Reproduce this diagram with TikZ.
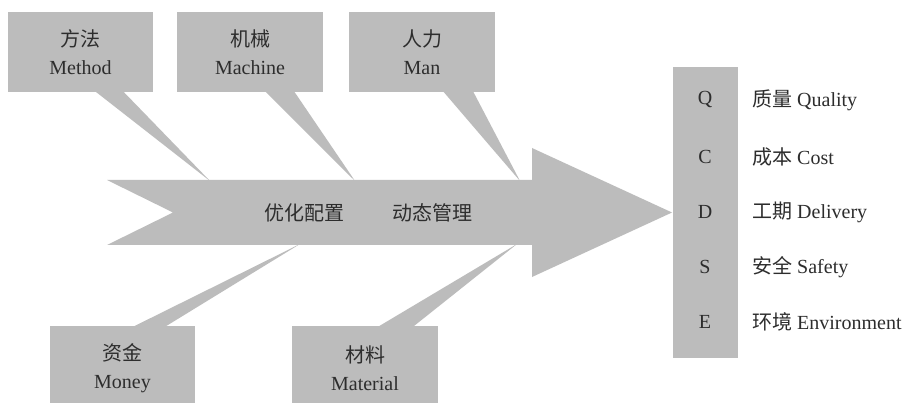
\documentclass[tikz,border=0pt]{standalone}
\usepackage{fontspec}
\setmainfont{Liberation Serif}
\newfontfamily\cjk{Noto Sans CJK SC}
\usetikzlibrary{calc}
\definecolor{boxgray}{RGB}{188,188,188}
\definecolor{inkgray}{RGB}{45,45,45}
\tikzset{
  fishbox/.style={fill=boxgray, inner sep=0pt, minimum width=145pt, minimum height=80pt,
    align=center, text=inkgray, font=\fontsize{20}{28}\selectfont},
  tailfill/.style={fill=boxgray},
  lbl/.style={text=inkgray, font=\fontsize{20}{24}\selectfont, inner sep=0pt},
}
\begin{document}
\begin{tikzpicture}[x=1pt,y=-1pt]
\useasboundingbox (0,0) rectangle (915,403);
\fill[white] (0,0) rectangle (915,403);
% main arrow
\fill[boxgray] (107,180) -- (532,180) -- (532,148) -- (672,212.5) -- (532,277) -- (532,245) -- (107,245) -- (173,212.5) -- cycle;
\node[lbl] (opt) at (304,212.5) {\cjk 优化配置};
\node[lbl] (dyn) at (432,212.5) {\cjk 动态管理};
% tips
\coordinate (tmethod) at (210,181);
\coordinate (tmachine) at (355,181);
\coordinate (tman) at (520,181);
\coordinate (tmoney) at (300,244);
\coordinate (tmaterial) at (517,244);
% top boxes
\node[fishbox] (method) at (80.5,52) {{\cjk 方法}\\Method};
\node[fishbox, minimum width=146pt] (machine) at (250,52) {{\cjk 机械}\\Machine};
\node[fishbox, minimum width=146pt] (man) at (422,52) {{\cjk 人力}\\Man};
\fill[tailfill] ($(method.south)+(14.5,-1)$) -- ($(method.south)+(42.5,-1)$) -- (tmethod) -- cycle;
\fill[tailfill] ($(machine.south)+(15,-1)$) -- ($(machine.south)+(44,-1)$) -- (tmachine) -- cycle;
\fill[tailfill] ($(man.south)+(21,-1)$) -- ($(man.south)+(51,-1)$) -- (tman) -- cycle;
% bottom boxes
\node[fishbox, minimum height=84pt] (money) at (122.5,368) {{\cjk 资金}\\Money};
\node[fishbox, minimum width=146pt, minimum height=84pt] (material) at (365,368) {{\cjk 材料}\\Material};
\fill[tailfill] ($(money.north)+(10.5,1)$) -- ($(money.north)+(42.5,1)$) -- (tmoney) -- cycle;
\fill[tailfill] ($(material.north)+(13,1)$) -- ($(material.north)+(48,1)$) -- (tmaterial) -- cycle;
% QCDSE column
\node[fill=boxgray, inner sep=0pt, minimum width=65pt, minimum height=291pt] (col) at (705.5,212.5) {};
\foreach \k/\l/\y in {q/Q/100, c/C/157, d/D/212, s/S/267, e/E/322}{
  \node[lbl] (l\k) at (705,\y) {\l};
}
\node[lbl, anchor=west] (rq) at (752,100) {{\cjk 质量} Quality};
\node[lbl, anchor=west] (rc) at (752,157) {{\cjk 成本} Cost};
\node[lbl, anchor=west] (rd) at (752,212) {{\cjk 工期} Delivery};
\node[lbl, anchor=west] (rs) at (752,267) {{\cjk 安全} Safety};
\node[lbl, anchor=west] (re) at (752,322) {{\cjk 环境} Environment};
\end{tikzpicture}
\end{document}
